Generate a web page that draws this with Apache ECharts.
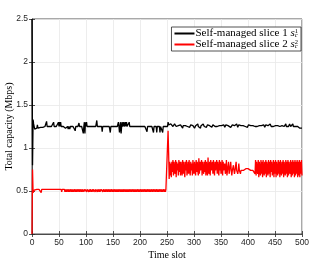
<!DOCTYPE html>
<html><head><meta charset="utf-8">
<script src="https://cdn.jsdelivr.net/npm/echarts@6/dist/echarts.min.js"></script>
<style>html,body{margin:0;padding:0;background:#fff}#c{width:336px;height:263px}</style>
</head><body><div id="c"></div>
<script>
var xTicks = [0,50,100,150,200,250,300,350,400,450,500];
var yTicks = [0,0.5,1,1.5,2,2.5];
var seriesNames = ['Self-managed slice 1', 'Self-managed slice 2'];
var slice1 = [
2.5,0.8,1.33,1.28,1.3,1.22,1.22,1.23,1.23,1.23,1.27,1.23,1.23,1.23,1.24,1.24,1.24,1.24,1.24,1.24,1.24,1.24,1.25,1.25,1.25,
1.25,1.25,1.31,1.25,1.25,1.25,1.25,1.25,1.25,1.25,1.25,1.25,1.25,1.25,1.25,1.3,1.25,1.25,1.25,1.25,1.25,1.25,1.25,1.25,1.3,
1.25,1.3,1.25,1.3,1.25,1.25,1.25,1.25,1.25,1.25,1.25,1.25,1.23,1.25,1.25,1.23,1.25,1.22,1.25,1.25,1.22,1.25,1.25,1.23,1.25,
1.25,1.25,1.25,1.25,1.25,1.2,1.25,1.25,1.25,1.25,1.25,1.25,1.29,1.25,1.25,1.25,1.25,1.25,1.25,1.25,1.17,1.25,1.3,1.17,1.3,
1.25,1.3,1.25,1.25,1.25,1.25,1.25,1.25,1.25,1.25,1.25,1.25,1.25,1.25,1.25,1.25,1.25,1.25,1.25,1.25,1.32,1.25,1.25,1.25,1.25,
1.25,1.25,1.25,1.25,1.25,1.19,1.25,1.25,1.25,1.25,1.25,1.25,1.25,1.25,1.25,1.25,1.25,1.25,1.25,1.25,1.18,1.25,1.25,1.25,1.25,
1.25,1.25,1.25,1.25,1.25,1.25,1.25,1.25,1.25,1.25,1.3,1.25,1.18,1.25,1.3,1.17,1.25,1.3,1.25,1.25,1.3,1.25,1.25,1.3,1.25,
1.3,1.25,1.25,1.25,1.25,1.3,1.25,1.25,1.25,1.25,1.25,1.25,1.25,1.25,1.25,1.25,1.25,1.25,1.25,1.25,1.25,1.25,1.25,1.25,1.25,
1.25,1.25,1.25,1.25,1.25,1.25,1.25,1.25,1.25,1.25,1.25,1.25,1.25,1.19,1.25,1.25,1.25,1.25,1.25,1.25,1.25,1.25,1.25,1.25,1.25,
1.18,1.25,1.25,1.25,1.25,1.25,1.18,1.25,1.25,1.25,1.25,1.25,1.18,1.25,1.25,1.25,1.25,1.18,1.25,1.25,1.25,1.25,1.25,1.25,1.25,
1.25,1.25,1.3,1.27,1.26,1.27,1.25,1.28,1.26,1.27,1.26,1.25,1.27,1.26,1.28,1.26,1.27,1.25,1.26,1.27,1.24,1.26,1.27,1.26,1.25,
1.27,1.26,1.27,1.25,1.23,1.26,1.27,1.26,1.25,1.26,1.27,1.28,1.26,1.25,1.27,1.26,1.26,1.24,1.26,1.27,1.25,1.26,1.28,1.26,1.25,
1.26,1.23,1.25,1.26,1.27,1.24,1.26,1.28,1.25,1.26,1.27,1.26,1.23,1.26,1.27,1.26,1.25,1.28,1.26,1.25,1.26,1.27,1.26,1.24,1.26,
1.27,1.26,1.25,1.27,1.26,1.28,1.26,1.25,1.24,1.26,1.27,1.26,1.26,1.28,1.25,1.26,1.27,1.26,1.25,1.27,1.26,1.23,1.26,1.27,1.26,
1.25,1.26,1.28,1.26,1.25,1.27,1.26,1.24,1.26,1.27,1.28,1.26,1.25,1.26,1.27,1.26,1.25,1.25,1.24,1.25,1.25,1.27,1.26,1.28,1.25,
1.26,1.27,1.25,1.26,1.28,1.26,1.24,1.26,1.27,1.26,1.25,1.28,1.26,1.27,1.26,1.25,1.26,1.27,1.28,1.26,1.25,1.26,1.27,1.26,1.24,
1.26,1.27,1.25,1.26,1.28,1.26,1.25,1.24,1.25,1.26,1.27,1.26,1.28,1.25,1.26,1.27,1.26,1.25,1.25,1.24,1.25,1.26,1.27,1.26,1.25,
1.26,1.28,1.26,1.25,1.27,1.26,1.24,1.26,1.27,1.28,1.26,1.25,1.26,1.27,1.26,1.25,1.28,1.26,1.25,1.26,1.27,1.26,1.25,1.24,1.26,
1.27,1.26,1.25,1.26,1.28,1.26,1.25,1.27,1.26,1.25,1.24,1.26,1.27,1.26,1.25,1.28,1.26,1.25,1.27,1.26,1.28,1.25,1.26,1.27,1.26,
1.25,1.26,1.28,1.26,1.25,1.27,1.25,1.26,1.28,1.25,1.26,1.25,1.27,1.25,1.24,1.25,1.27,1.25,1.26,1.25,1.24,1.23,1.24,1.23,1.22,1.23
];
var slice2 = [
0,0.75,0.48,0.5,0.51,0.52,0.52,0.52,0.52,0.52,0.52,0.52,0.52,0.52,0.52,0.52,0.52,0.48,0.52,0.52,0.52,0.52,0.52,0.52,0.52,
0.52,0.52,0.52,0.52,0.52,0.52,0.52,0.52,0.52,0.52,0.52,0.52,0.52,0.52,0.52,0.52,0.52,0.52,0.52,0.52,0.52,0.52,0.52,0.52,0.52,
0.52,0.52,0.52,0.52,0.52,0.49,0.52,0.52,0.52,0.52,0.52,0.49,0.52,0.49,0.52,0.49,0.49,0.52,0.49,0.52,0.49,0.49,0.52,0.49,0.52,
0.49,0.52,0.49,0.49,0.52,0.49,0.52,0.49,0.49,0.52,0.49,0.49,0.52,0.49,0.52,0.52,0.49,0.52,0.49,0.52,0.52,0.49,0.49,0.52,0.52,
0.52,0.49,0.52,0.52,0.52,0.49,0.52,0.49,0.52,0.52,0.49,0.49,0.52,0.49,0.52,0.52,0.52,0.49,0.52,0.52,0.52,0.49,0.52,0.52,0.49,
0.52,0.49,0.49,0.52,0.52,0.52,0.49,0.52,0.52,0.49,0.52,0.49,0.52,0.52,0.49,0.52,0.49,0.52,0.52,0.49,0.52,0.49,0.52,0.52,0.49,
0.52,0.49,0.52,0.52,0.49,0.52,0.49,0.52,0.49,0.52,0.49,0.52,0.52,0.49,0.52,0.49,0.52,0.49,0.52,0.49,0.52,0.52,0.49,0.52,0.49,
0.52,0.49,0.52,0.49,0.52,0.49,0.52,0.52,0.49,0.52,0.49,0.49,0.52,0.49,0.52,0.49,0.52,0.49,0.52,0.49,0.49,0.52,0.49,0.52,0.49,
0.49,0.52,0.49,0.52,0.49,0.49,0.52,0.49,0.49,0.52,0.49,0.52,0.49,0.49,0.52,0.49,0.49,0.52,0.49,0.52,0.49,0.49,0.52,0.49,0.49,
0.52,0.49,0.49,0.52,0.49,0.49,0.52,0.49,0.52,0.49,0.49,0.52,0.49,0.49,0.52,0.49,0.52,0.49,0.49,0.52,0.49,0.52,0.49,0.52,0.52,
0.52,0.52,1.2,0.95,0.64,0.84,0.68,0.82,0.66,0.84,0.72,0.86,0.68,0.84,0.74,0.70,0.86,0.66,0.84,0.74,0.82,0.68,0.86,0.72,0.84,
0.68,0.84,0.74,0.68,0.86,0.70,0.84,0.74,0.66,0.84,0.74,0.86,0.68,0.74,0.84,0.70,0.86,0.74,0.68,0.84,0.74,0.82,0.68,0.86,0.74,
0.70,0.84,0.74,0.68,0.86,0.72,0.84,0.74,0.68,0.88,0.70,0.84,0.74,0.74,0.86,0.68,0.84,0.74,0.70,0.84,0.72,0.86,0.68,0.84,0.74,
0.68,0.89,0.74,0.70,0.84,0.68,0.86,0.74,0.74,0.84,0.70,0.86,0.74,0.68,0.84,0.74,0.74,0.86,0.70,0.84,0.74,0.68,0.86,0.74,0.84,
0.70,0.74,0.86,0.68,0.84,0.74,0.74,0.82,0.70,0.74,0.86,0.68,0.74,0.74,0.84,0.70,0.74,0.74,0.84,0.74,0.68,0.74,0.74,0.80,0.74,
0.70,0.74,0.74,0.84,0.74,0.74,0.70,0.74,0.82,0.74,0.74,0.70,0.74,0.74,0.72,0.74,0.74,0.74,0.74,0.76,0.76,0.76,0.76,0.76,0.76,
0.76,0.76,0.76,0.74,0.74,0.74,0.74,0.74,0.74,0.74,0.74,0.74,0.74,0.70,0.86,0.68,0.84,0.74,0.70,0.86,0.66,0.84,0.74,0.68,0.86,
0.70,0.84,0.66,0.86,0.74,0.68,0.84,0.70,0.86,0.66,0.84,0.74,0.68,0.86,0.70,0.84,0.66,0.86,0.72,0.84,0.68,0.74,0.86,0.66,0.84,
0.70,0.86,0.66,0.84,0.74,0.68,0.86,0.70,0.84,0.66,0.86,0.74,0.68,0.84,0.70,0.86,0.66,0.84,0.74,0.68,0.86,0.70,0.84,0.66,0.86,
0.68,0.84,0.74,0.70,0.86,0.66,0.84,0.68,0.86,0.70,0.84,0.66,0.86,0.68,0.84,0.70,0.86,0.66,0.84,0.68,0.86,0.66,0.84,0.70,0.86,0.68
];
var axisColor = '#262626';
var serif = '"Liberation Serif", "Times New Roman", serif';
var sans = '"Liberation Sans", Arial, sans-serif';
function pairs(arr){ return arr.map(function(v,i){ return [i, v]; }); }
var chart = echarts.init(document.getElementById('c'), null, {renderer:'canvas'});
var tickStyle = {show:true, inside:true, length:3, lineStyle:{color:axisColor, width:0.8}};
chart.setOption({
  animation:false,
  backgroundColor:'#fff',
  grid:{left:32, right:34, top:19, bottom:29, containLabel:false, outerBoundsMode:'none',
        show:true, borderColor:axisColor, borderWidth:0.8, backgroundColor:'transparent'},
  xAxis:[{
    type:'value', min:0, max:500, interval:50,
    name:'Time slot', nameLocation:'middle', nameGap:16, nameMoveOverlap:false,
    nameTextStyle:{fontFamily:serif, fontSize:10, color:'#000'},
    axisLine:{show:true, lineStyle:{color:axisColor, width:0.8}},
    axisTick:tickStyle,
    axisLabel:{fontFamily:sans, fontSize:8.5, color:axisColor, margin:4},
    splitLine:{show:true, lineStyle:{color:'#e8e8e8', width:0.8}}
  },{
    type:'value', min:0, max:500, interval:50, position:'top',
    axisLine:{show:false}, axisTick:tickStyle, axisLabel:{show:false}, splitLine:{show:false}
  }],
  yAxis:[{
    type:'value', min:0, max:2.5, interval:0.5,
    name:'Total capacity (Mbps)', nameLocation:'middle', nameGap:18, nameMoveOverlap:false,
    nameTextStyle:{fontFamily:serif, fontSize:10, color:'#000'},
    axisLine:{show:true, lineStyle:{color:axisColor, width:0.8}},
    axisTick:tickStyle,
    axisLabel:{fontFamily:sans, fontSize:8.5, color:axisColor, margin:4},
    splitLine:{show:true, lineStyle:{color:'#e8e8e8', width:0.8}}
  },{
    type:'value', min:0, max:2.5, interval:0.5, position:'right',
    axisLine:{show:false}, axisTick:tickStyle, axisLabel:{show:false}, splitLine:{show:false}
  }],
  legend:{
    orient:'vertical', right:35, top:27,
    data:seriesNames,
    backgroundColor:'#fff', borderColor:axisColor, borderWidth:0.8,
    padding:[1,3,1,3], itemGap:0, itemWidth:20, itemHeight:2,
    icon:'rect',
    textStyle:{fontFamily:serif, fontSize:11, color:'#000', padding:[0,0,0,-4], lineHeight:11,
      rich:{
        t:{fontFamily:serif, fontSize:11, color:'#000', lineHeight:11},
        s:{fontFamily:serif, fontStyle:'italic', fontSize:11, color:'#000', lineHeight:11},
        sub:{fontFamily:serif, fontStyle:'italic', fontSize:6.5, color:'#000', verticalAlign:'bottom', width:0, padding:[5,0,0,0]},
        sup:{fontFamily:serif, fontSize:6.5, color:'#000', verticalAlign:'top', padding:[0,0,5,0]}
      }
    },
    formatter:function(name){
      var k = name === seriesNames[0] ? '1' : '2';
      return '{t|' + name + ' }{s|s}{sub|c}{sup|' + k + '}';
    }
  },
  series:[
    {name:seriesNames[0], type:'line', data:pairs(slice1), showSymbol:false, symbol:'none',
     lineStyle:{color:'#000', width:1.3}, itemStyle:{color:'#000'}, z:2},
    {name:seriesNames[1], type:'line', data:pairs(slice2), showSymbol:false, symbol:'none',
     lineStyle:{color:'#ff0000', width:1.3}, itemStyle:{color:'#ff0000'}, z:3}
  ]
});
</script></body></html>
